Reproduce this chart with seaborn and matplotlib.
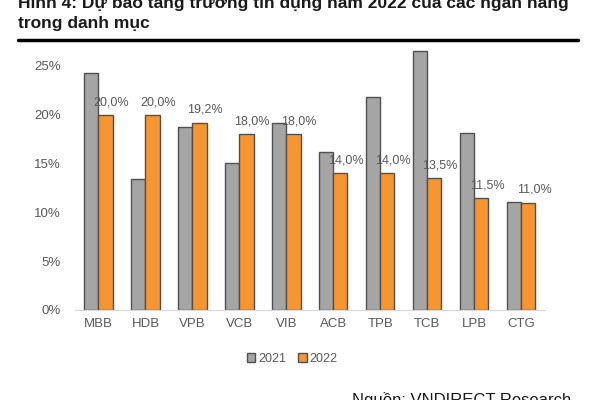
import pandas as pd
import matplotlib
matplotlib.use('Agg')
import matplotlib.pyplot as plt
import seaborn as sns
from matplotlib.patches import Patch

# Data
banks = ['MBB', 'HDB', 'VPB', 'VCB', 'VIB', 'ACB', 'TPB', 'TCB', 'LPB', 'CTG']
growth_2021 = [24.3, 13.4, 18.7, 15.1, 19.2, 16.2, 21.8, 26.5, 18.1, 11.1]
growth_2022 = [20.0, 20.0, 19.2, 18.0, 18.0, 14.0, 14.0, 13.5, 11.5, 11.0]
years = ['2021', '2022']

df = pd.DataFrame({
    'bank': banks * 2,
    'year': ['2021'] * len(banks) + ['2022'] * len(banks),
    'value': growth_2021 + growth_2022,
})

sns.set_style('white')
plt.rcParams['font.family'] = ['Liberation Sans', 'DejaVu Sans']

gray = '#A5A5A5'
orange = '#F7962F'
edge = '#505050'
text_col = '#595959'

fig = plt.figure(figsize=(6, 4), dpi=100)
ax = fig.add_axes([0.125, 0.225, 0.783, 0.659])

sns.barplot(data=df, x='bank', y='value', hue='year', order=banks,
            hue_order=years, palette=[gray, orange], width=0.6,
            edgecolor=edge, linewidth=1, saturation=1, legend=False, ax=ax)

# labels on the 2022 bars
for i, v in enumerate(growth_2022):
    ax.text(i + 0.27, v + 1.3, f'{v:.1f}%'.replace('.', ','), ha='center',
            va='center', fontsize=9, color=text_col)

ax.set_ylim(0, 27)
ax.set_yticks([0, 5, 10, 15, 20, 25])
ax.set_yticklabels([f'{t}%' for t in [0, 5, 10, 15, 20, 25]])
ax.set_xlim(-0.5, len(banks) - 0.5)
ax.set_xlabel('')
ax.set_ylabel('')
ax.tick_params(axis='both', labelsize=9.5, colors=text_col, length=0)
ax.tick_params(axis='y', pad=10)
ax.tick_params(axis='x', pad=6)
for s in ['top', 'right', 'left']:
    ax.spines[s].set_visible(False)
ax.spines['bottom'].set_color('#D9D9D9')

handles = [Patch(facecolor=gray, edgecolor=edge, label='2021'),
           Patch(facecolor=orange, edgecolor=edge, label='2022')]
fig.legend(handles=handles, loc='center', bbox_to_anchor=(0.487, 0.102),
           ncol=2, frameon=False, fontsize=9, handlelength=0.7,
           handleheight=0.7, handletextpad=0.2, columnspacing=1.0,
           labelcolor=text_col)

# title (partly cut off at top in the original)
fig.text(0.03, 0.98, 'Hình 4: Dự báo tăng trưởng tín dụng năm 2022 của các ngân hàng',
         fontsize=12.5, fontweight='bold', color='#1a1a1a', va='baseline')
fig.text(0.03, 0.93, 'trong danh mục', fontsize=12.5, fontweight='bold',
         color='#1a1a1a', va='baseline')
fig.add_artist(plt.Line2D([0.03, 0.963], [0.9, 0.9], color='black', lw=2.5))

# source line, cut off at the bottom edge as in the original
fig.text(0.587, -0.012, 'Nguồn: VNDIRECT Research', fontsize=12,
         color='#1a1a1a', va='baseline')

fig.savefig('out.png', dpi=100)
